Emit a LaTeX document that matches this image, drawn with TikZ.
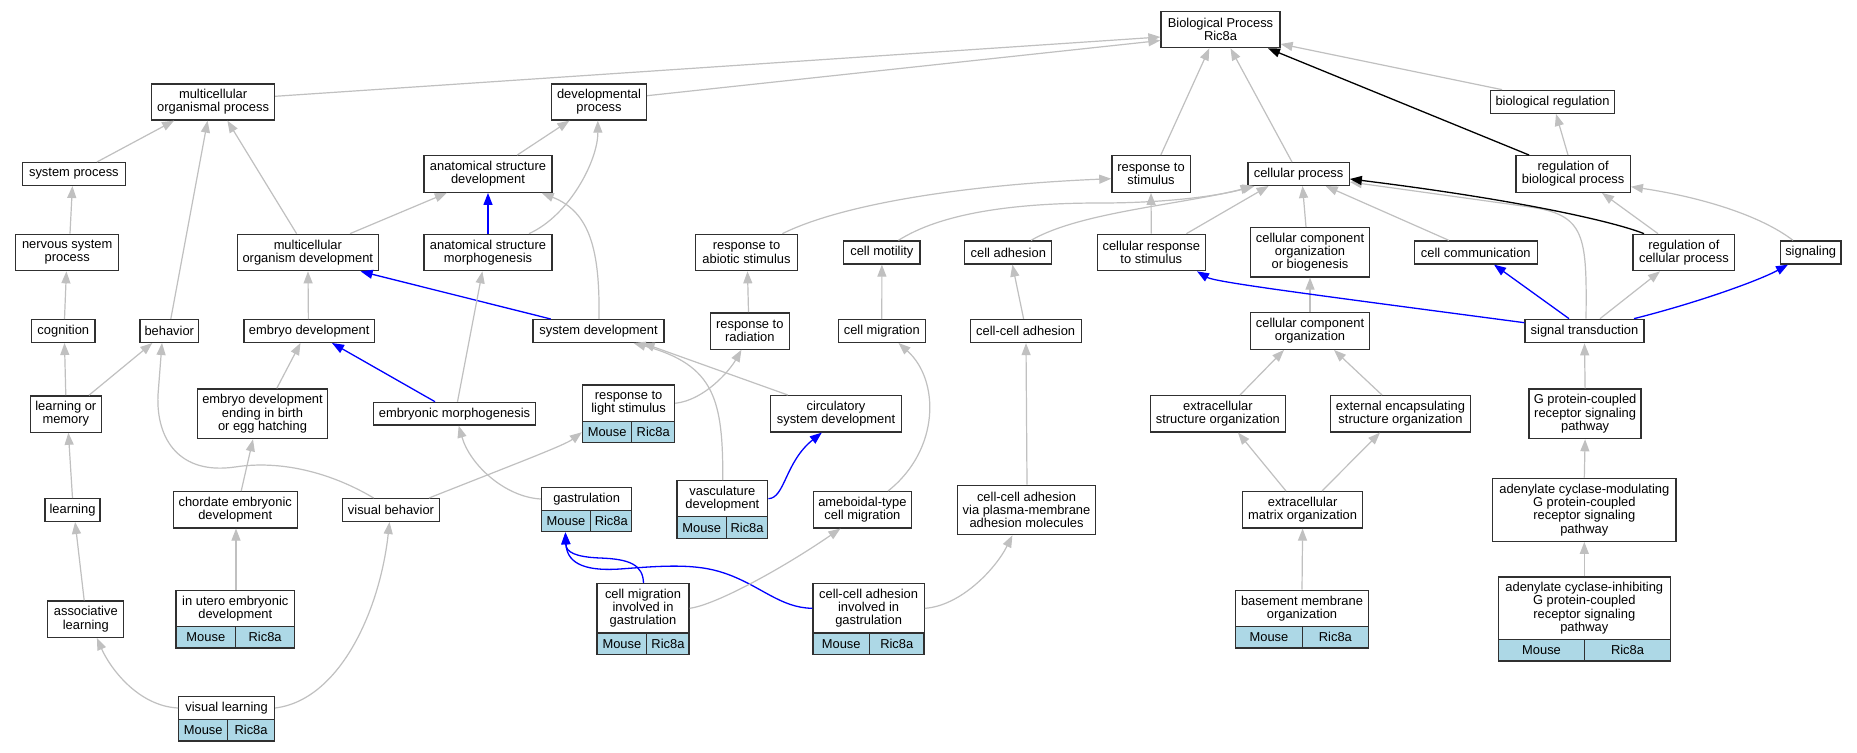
\documentclass[tikz,border=0pt]{standalone}
\usepackage{fontspec}
\setmainfont{Liberation Sans}
\usetikzlibrary{arrows.meta}
\definecolor{edgegray}{HTML}{C0C0C0}
\definecolor{cellblue}{HTML}{ADD8E6}
\definecolor{boxline}{HTML}{303030}
\tikzset{
  gobox/.style={draw=boxline, line width=1.3pt, fill=white, inner sep=0pt, align=center,
    font=\fontsize{12.9}{13.3}\selectfont},
  gocell/.style={gobox, fill=cellblue},
  sz/.style 2 args={minimum width=#1pt, minimum height=#2pt},
  gedge/.style={draw=edgegray, line width=1.2pt, -{Triangle[length=12pt,width=9pt]}},
  bedge/.style={draw=blue, line width=1.3pt, -{Triangle[length=12pt,width=9pt]}},
  kedge/.style={draw=black, line width=1.3pt, -{Triangle[length=12pt,width=9pt]}}
}
\begin{document}
\begin{tikzpicture}[x=1pt,y=-1pt]
\fill[white] (0,0) rectangle (1857,752);
\useasboundingbox (0,0) rectangle (1857,752);

% row 0-1
\node[gobox, sz={119}{36}] (bp) at (1220.5,29.7) {Biological Process\\Ric8a};
\node[gobox, sz={122.6}{36}] (mop) at (213.1,102) {multicellular\\organismal process};
\node[gobox, sz={94.8}{36}] (dev) at (599,102) {developmental\\process};
\node[gobox, sz={124.4}{23}] (br) at (1552.5,101.8) {biological regulation};
% row 2
\node[gobox, sz={102.8}{22.7}] (sp) at (73.9,174) {system process};
\node[gobox, sz={128}{36.6}] (asd) at (488,174) {anatomical structure\\development};
\node[gobox, sz={78.3}{36.6}] (rts) at (1151,174) {response to\\stimulus};
\node[gobox, sz={101.2}{22.7}] (cp) at (1298.6,174) {cellular process};
\node[gobox, sz={114.4}{36.6}] (rbp) at (1573.1,174) {regulation of\\biological process};
% row 3
\node[gobox, sz={102.8}{36.4}] (nsp) at (67.2,252.5) {nervous system\\process};
\node[gobox, sz={141.2}{36.4}] (mod) at (307.8,252.5) {multicellular\\organism development};
\node[gobox, sz={128}{36.4}] (asm) at (488,252.5) {anatomical structure\\morphogenesis};
\node[gobox, sz={101.5}{36.4}] (ras) at (746.5,252.5) {response to\\abiotic stimulus};
\node[gobox, sz={76.3}{23}] (cmot) at (881.9,252.5) {cell motility};
\node[gobox, sz={87}{23}] (cad) at (1008.3,252.5) {cell adhesion};
\node[gobox, sz={107.8}{36.4}] (crs) at (1151.3,252.5) {cellular response\\to stimulus};
\node[gobox, sz={118.4}{49.3}] (ccob) at (1310,252.3) {cellular component\\organization\\or biogenesis};
\node[gobox, sz={122.8}{23}] (cc) at (1475.8,252.5) {cell communication};
\node[gobox, sz={101.6}{36.4}] (rcp) at (1683.9,252.5) {regulation of\\cellular process};
\node[gobox, sz={60.8}{23}] (sig) at (1810.7,252.5) {signaling};
% row 4
\node[gobox, sz={63.3}{22.7}] (cog) at (63.3,331) {cognition};
\node[gobox, sz={58.5}{22.7}] (beh) at (169.3,331) {behavior};
\node[gobox, sz={130.4}{22.7}] (ed) at (309.2,331) {embryo development};
\node[gobox, sz={131}{22.7}] (sd) at (598.5,331) {system development};
\node[gobox, sz={79}{36.3}] (rr) at (749.8,331) {response to\\radiation};
\node[gobox, sz={87}{22.7}] (cm) at (881.8,331) {cell migration};
\node[gobox, sz={111}{23}] (cca) at (1025.7,331) {cell-cell adhesion};
\node[gobox, sz={118.4}{36.6}] (cco) at (1310,331) {cellular component\\organization};
\node[gobox, sz={118.8}{23.4}] (st) at (1584.5,331) {signal transduction};
% row 5
\node[gobox, sz={70.8}{36.3}] (lom) at (65.8,414) {learning or\\memory};
\node[gobox, sz={130.5}{49.7}] (edeb) at (262.5,413.8) {embryo development\\ending in birth\\or egg hatching};
\node[gobox, sz={162.5}{22.7}] (em) at (454.5,413.7) {embryonic morphogenesis};
\node[gobox, sz={92}{36.7}] (rls) at (628.6,403.3) {response to\\light stimulus};
\node[gocell, sz={49.3}{21}] (rls-m) at (607.15,432.2) {Mouse};
\node[gocell, sz={42.8}{21}] (rls-r) at (653.2,432.2) {Ric8a};
\node[gobox, sz={130.7}{36.3}] (csd) at (836,413.8) {circulatory\\system development};
\node[gobox, sz={134.7}{36.3}] (eso) at (1217.9,413.8) {extracellular\\structure organization};
\node[gobox, sz={140.3}{36.3}] (eeso) at (1400.5,413.8) {external encapsulating\\structure organization};
\node[gobox, sz={112}{49.7}] (gpcr) at (1585.1,413.8) {G protein-coupled\\receptor signaling\\pathway};
% row 6
\node[gobox, sz={55}{22.7}] (lea) at (72.5,510) {learning};
\node[gobox, sz={124.1}{36.3}] (ced) at (235.2,509.8) {chordate embryonic\\development};
\node[gobox, sz={97.3}{22.7}] (vb) at (391,510) {visual behavior};
\node[gobox, sz={90.4}{22.6}] (gas) at (586.6,499) {gastrulation};
\node[gocell, sz={49.3}{21.4}] (gas-m) at (566.05,521) {Mouse};
\node[gocell, sz={41.1}{21.4}] (gas-r) at (611.25,521) {Ric8a};
\node[gobox, sz={90.8}{36}] (vd) at (722.4,498.7) {vasculature\\development};
\node[gocell, sz={49.4}{22}] (vd-m) at (701.7,527.7) {Mouse};
\node[gocell, sz={41.4}{22}] (vd-r) at (747.1,527.7) {Ric8a};
\node[gobox, sz={98.5}{36.3}] (acm) at (862.4,509.8) {ameboidal-type\\cell migration};
\node[gobox, sz={138.5}{49.4}] (ccavpm) at (1026.5,510) {cell-cell adhesion\\via plasma-membrane\\adhesion molecules};
\node[gobox, sz={120.4}{36.3}] (ecm) at (1302.6,509.8) {extracellular\\matrix organization};
\node[gobox, sz={183.2}{63}] (acmod) at (1584.3,509.8) {adenylate cyclase-modulating\\G protein-coupled\\receptor signaling\\pathway};
% row 7
\node[gobox, sz={76}{36.3}] (al) at (85.8,619.2) {associative\\learning};
\node[gobox, sz={118.6}{36}] (iu) at (235.3,608.7) {in utero embryonic\\development};
\node[gocell, sz={59.7}{21.3}] (iu-m) at (205.85,637.35) {Mouse};
\node[gocell, sz={58.9}{21.3}] (iu-r) at (265.15,637.35) {Ric8a};
\node[gobox, sz={92.1}{49.3}] (cmig) at (643,608.3) {cell migration\\involved in\\gastrulation};
\node[gocell, sz={49.8}{21.7}] (cmig-m) at (621.9,643.85) {Mouse};
\node[gocell, sz={42.3}{21.7}] (cmig-r) at (667.95,643.85) {Ric8a};
\node[gobox, sz={111.1}{49.3}] (ccaig) at (868.6,608.3) {cell-cell adhesion\\involved in\\gastrulation};
\node[gocell, sz={56.4}{21.7}] (ccaig-m) at (841.2,643.85) {Mouse};
\node[gocell, sz={54.7}{21.7}] (ccaig-r) at (896.75,643.85) {Ric8a};
\node[gobox, sz={132.8}{36.4}] (bmo) at (1302,608.5) {basement membrane\\organization};
\node[gocell, sz={66.8}{21.3}] (bmo-m) at (1269,637.35) {Mouse};
\node[gocell, sz={66}{21.3}] (bmo-r) at (1335.4,637.35) {Ric8a};
\node[gobox, sz={172}{62.3}] (aci) at (1584.3,608.2) {adenylate cyclase-inhibiting\\G protein-coupled\\receptor signaling\\pathway};
\node[gocell, sz={86.4}{21.7}] (aci-m) at (1541.5,650.15) {Mouse};
\node[gocell, sz={85.6}{21.7}] (aci-r) at (1627.5,650.15) {Ric8a};
% row 8
\node[gobox, sz={95.7}{22.6}] (vl) at (226.6,708) {visual learning};
\node[gocell, sz={49.1}{21.7}] (vl-m) at (203.25,730.15) {Mouse};
\node[gocell, sz={46.6}{21.7}] (vl-r) at (251.1,730.15) {Ric8a};

% ---------- edges ----------
\draw[gedge] ([yshift=5.7pt]mop.east) -- ([yshift=-7.3pt]bp.west);
\draw[gedge] ([yshift=6.3pt]dev.east) -- ([yshift=-10.8pt]bp.west);
\draw[gedge] ([xshift=9.8pt]rts.north) -- ([xshift=-11.2pt]bp.south);
\draw[gedge] ([xshift=-6.6pt]cp.north) -- ([xshift=10pt]bp.south);
\draw[gedge] ([xshift=-50.5pt]br.north) -- ([yshift=-14.3pt]bp.east);
\draw[kedge] ([xshift=-44pt]rbp.north) -- ([xshift=47.5pt]bp.south);

\draw[gedge] ([xshift=23pt]sp.north) -- ([xshift=-39pt]mop.south);
\draw[gedge] ([xshift=1.5pt]beh.north) -- ([xshift=-5.5pt]mop.south);
\draw[gedge] ([xshift=-11.2pt]mod.north) -- ([xshift=14.3pt]mop.south);
\draw[gedge] ([xshift=29.2pt]asd.north) -- ([xshift=-29.6pt]dev.south);
\draw[gedge] ([xshift=41pt]asm.north) .. controls (570,215) and (598,160) .. ([xshift=-1.2pt]dev.south);
\draw[gedge] ([xshift=42.2pt]mod.north) -- ([xshift=-41.2pt]asd.south);
\draw[bedge] (asm.north) -- (asd.south);
\draw[gedge] ([xshift=0.5pt]sd.north) .. controls (600,250) and (590,212) .. ([xshift=53.7pt]asd.south);
\draw[gedge] ([xshift=2.8pt]nsp.north) -- ([xshift=-1.5pt]sp.south);
\draw[gedge] ([xshift=1.2pt]cog.north) -- ([xshift=-0.8pt]nsp.south);
\draw[gedge] ([xshift=-0.8pt]ed.north) -- ([xshift=0.2pt]mod.south);
\draw[bedge] ([xshift=-47.7pt]sd.north) -- ([xshift=52.8pt]mod.south);
\draw[gedge] ([xshift=3pt]em.north) -- ([xshift=-5.6pt]asm.south);
\draw[gedge] (lom.north) -- ([xshift=1.2pt]cog.south);
\draw[gedge] ([xshift=23.2pt]lom.north) -- ([xshift=-17pt]beh.south);
\draw[gedge] ([xshift=-17.3pt]vb.north) .. controls (330,472) and (280,460) .. (235,467)
   .. controls (180,475) and (156,440) .. (158,395) -- ([xshift=-7.3pt]beh.south);
\draw[gedge] ([xshift=14.3pt]edeb.north) -- ([xshift=-8.7pt]ed.south);
\draw[bedge] ([xshift=-19.5pt]em.north) -- ([xshift=22.8pt]ed.south);
\draw[gedge] (lea.north) -- ([xshift=2.6pt]lom.south);
\draw[gedge] ([xshift=6pt]ced.north) -- ([xshift=-9.5pt]edeb.south);
\draw[gedge] ([xshift=-1.6pt]al.north) -- ([xshift=2.6pt]lea.south);
\draw[gedge] ([xshift=0.7pt]iu.north) -- ([xshift=0.8pt]ced.south);
\draw[gedge] (vl.west) .. controls (138,706) and (110,668) .. ([xshift=11.1pt]al.south);
\draw[gedge] (vl.east) .. controls (340,700) and (380,610) .. ([xshift=-1.5pt]vb.south);
\draw[gedge] ([xshift=38pt]vb.north) .. controls (520,462) and (565,445) .. (rls-m.west);
\draw[gedge] (gas.west) .. controls (505,497) and (470,465) .. ([xshift=4.2pt]em.south);
\draw[gedge] (rls.east) .. controls (705,400) and (730,370) .. ([xshift=-8.4pt]rr.south);
\draw[gedge] ([xshift=0.4pt]vd.north) .. controls (723,400) and (715,365) .. ([xshift=35pt]sd.south);
\draw[gedge] ([xshift=-48.2pt]csd.north) -- ([xshift=44pt]sd.south);
\draw[bedge] (vd.east) .. controls (785,498) and (785,462) .. ([xshift=-14.2pt]csd.south);
\draw[gedge] ([xshift=-1.3pt]rr.north) -- ([xshift=1pt]ras.south);
\draw[gedge] ([xshift=35.9pt]ras.north) .. controls (840,205) and (960,185) .. ([yshift=-4.7pt]rts.west);
\draw[gedge] (cm.north) -- (cmot.south);
\draw[gedge] ([xshift=16.5pt]cmot.north) .. controls (940,214) and (1010,203) .. (1100,203)
   .. controls (1180,203) and (1230,193) .. ([xshift=-46pt]cp.south);
\draw[gedge] ([xshift=22.7pt]cad.north) .. controls (1080,212) and (1180,205) .. ([xshift=-44pt]cp.south);
\draw[gedge] ([xshift=35.1pt]crs.north) -- ([xshift=-30pt]cp.south);
\draw[gedge] ([xshift=-4pt]ccob.north) -- ([xshift=3.9pt]cp.south);
\draw[gedge] ([xshift=-26.9pt]cc.north) -- ([xshift=27.1pt]cp.south);
\draw[gedge] ([xshift=1.5pt]st.north) .. controls (1587,235) and (1585,215) .. (1530,207) -- ([yshift=-8pt]cp.east);
\draw[kedge] ([xshift=-39.9pt]rcp.north) .. controls (1615,222) and (1520,200) .. ([yshift=-5pt]cp.east);
\draw[gedge] (crs.north) -- (rts.south);
\draw[gedge] ([xshift=-2.1pt]cca.north) -- ([xshift=4.1pt]cad.south);
\draw[gedge] ([xshift=0.5pt]ccavpm.north) -- ([xshift=0.3pt]cca.south);
\draw[gedge] ([xshift=25.6pt]acm.north) .. controls (940,450) and (940,380) .. ([xshift=16.7pt]cm.south);
\draw[bedge] ([xshift=0.5pt]cmig.north) .. controls (643,565) and (630,559) .. (600,558)
   .. controls (575,557) and (566,552) .. ([xshift=-0.65pt]gas-m.south);
\draw[bedge] (ccaig.west) .. controls (780,608) and (760,585) .. (724,573)
   .. controls (695,563) and (660,566) .. (620,569)
   .. controls (590,571) and (567,566) .. ([xshift=-0.65pt]gas-m.south);
\draw[gedge] (cmig.east) .. controls (715,605) and (780,570) .. ([xshift=-22pt]acm.south);
\draw[gedge] (ccaig.east) .. controls (960,606) and (995,570) .. ([xshift=-14.1pt]ccavpm.south);
\draw[gedge] (cco.north) -- (ccob.south);
\draw[gedge] ([xshift=22.1pt]eso.north) -- ([xshift=-26pt]cco.south);
\draw[gedge] ([xshift=-18.5pt]eeso.north) -- ([xshift=24pt]cco.south);
\draw[gedge] ([xshift=-16.6pt]ecm.north) -- ([xshift=20.1pt]eso.south);
\draw[gedge] ([xshift=19.4pt]ecm.north) -- ([xshift=-20.5pt]eeso.south);
\draw[gedge] (bmo.north) -- (ecm.south);
\draw[bedge] ([yshift=8.3pt]st.west) .. controls (1300,293) and (1215,282) .. ([xshift=45.7pt]crs.south);
\draw[bedge] ([xshift=-15.5pt]st.north) -- ([xshift=18.2pt]cc.south);
\draw[gedge] ([xshift=15.5pt]st.north) -- ([xshift=-23.9pt]rcp.south);
\draw[bedge] ([xshift=49.5pt]st.north) .. controls (1700,302) and (1760,280) .. ([xshift=-22.7pt]sig.south);
\draw[gedge] ([xshift=-25.9pt]rcp.north) -- ([xshift=28.9pt]rbp.south);
\draw[gedge] ([xshift=-17.7pt]sig.north) .. controls (1760,215) and (1700,197) .. ([yshift=-12.7pt]rbp.east);
\draw[gedge] ([xshift=-5.1pt]rbp.north) -- ([xshift=3.5pt]br.south);
\draw[gedge] (gpcr.north) -- (st.south);
\draw[gedge] (acmod.north) -- (gpcr.south);
\draw[gedge] (aci.north) -- (acmod.south);
\end{tikzpicture}
\end{document}
